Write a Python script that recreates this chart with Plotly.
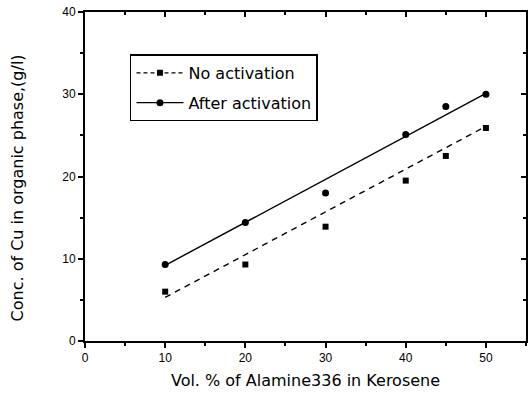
import plotly.graph_objects as go

# Data
vol_pct = [10, 20, 30, 40, 45, 50]
no_activation = [6.0, 9.3, 13.9, 19.5, 22.5, 25.9]
after_activation = [9.3, 14.4, 18.0, 25.1, 28.5, 30.0]

# Linear trend lines (end points)
fit_x = [10, 50]
fit_no = [5.3, 26.1]
fit_after = [9.2, 30.1]

x_ticks = [0, 10, 20, 30, 40, 50]
y_ticks = [0, 10, 20, 30, 40]

FONT = "Liberation Sans, Arial, sans-serif"
WIDE = "DejaVu Sans, sans-serif"

fig = go.Figure()

# Trend lines (not in legend)
fig.add_trace(go.Scatter(x=fit_x, y=fit_no, mode="lines",
                         line=dict(color="black", width=1.4, dash="6px,5px"),
                         showlegend=False, hoverinfo="skip"))
fig.add_trace(go.Scatter(x=fit_x, y=fit_after, mode="lines",
                         line=dict(color="black", width=1.4),
                         showlegend=False, hoverinfo="skip"))

# Markers
fig.add_trace(go.Scatter(x=vol_pct, y=no_activation, mode="markers",
                         showlegend=False,
                         marker=dict(symbol="square", size=6, color="black")))
fig.add_trace(go.Scatter(x=vol_pct, y=after_activation, mode="markers",
                         showlegend=False,
                         marker=dict(symbol="circle", size=7, color="black")))

# Legend entries
fig.add_trace(go.Scatter(x=[None], y=[None], mode="lines+markers",
                         name="No activation", legendgroup="a",
                         line=dict(color="black", width=1.4, dash="4px,3px"),
                         marker=dict(symbol="square", size=6, color="black")))
fig.add_trace(go.Scatter(x=[None], y=[None], mode="lines+markers",
                         name="After activation", legendgroup="b",
                         line=dict(color="black", width=1.4),
                         marker=dict(symbol="circle", size=7, color="black")))

axis_common = dict(showgrid=False, zeroline=False, showline=True,
                   linecolor="black", linewidth=2,
                   tickcolor="black", tickwidth=1.5, automargin=False,
                   tickfont=dict(family=FONT, size=12, color="black"))

fig.update_layout(
    width=528, height=393,
    margin=dict(l=85, r=2, t=12, b=52),
    paper_bgcolor="white", plot_bgcolor="white",
    font=dict(family=FONT, color="black"),
    xaxis=dict(range=[0, 55], tickmode="array", tickvals=x_ticks,
               ticks="outside", ticklen=5,
               minor=dict(dtick=5, ticks="outside", ticklen=3, tickcolor="black"),
               title=dict(text="Vol. % of Alamine336 in Kerosene",
                          font=dict(family=WIDE, size=16), standoff=10),
               **axis_common),
    yaxis=dict(range=[0, 40], tickmode="array", tickvals=y_ticks,
               ticks="outside", ticklen=5,
               minor=dict(dtick=5, ticks="outside", ticklen=3, tickcolor="black"),
               **axis_common),
    xaxis2=dict(range=[0, 55], overlaying="x", side="top", matches="x",
                tickmode="array", tickvals=x_ticks, showticklabels=False,
                ticks="inside", ticklen=5,
                minor=dict(dtick=5, ticks="inside", ticklen=3, tickcolor="black"),
                **axis_common),
    yaxis2=dict(range=[0, 40], overlaying="y", side="right",
                tickmode="array", tickvals=y_ticks, showticklabels=False,
                ticks="inside", ticklen=5,
                minor=dict(dtick=5, ticks="inside", ticklen=3, tickcolor="black"),
                **axis_common),
    legend=dict(x=0.102, y=0.871, xanchor="left", yanchor="top",
                bgcolor="white", bordercolor="black", borderwidth=1.5,
                font=dict(family=WIDE, size=16, color="black"),
                itemwidth=47, traceorder="grouped", tracegroupgap=6),
    annotations=[dict(text="Conc. of Cu in organic phase,(g/l)",
                      xref="paper", yref="paper", x=-0.154, y=0.464,
                      xanchor="center", yanchor="middle", textangle=-90,
                      showarrow=False,
                      font=dict(family=WIDE, size=16, color="black"))],
)

# dummy trace to activate secondary axes
fig.add_trace(go.Scatter(x=[None], y=[None], xaxis="x2", yaxis="y2",
                         showlegend=False, hoverinfo="skip"))

# Remove the default page margin so the figure fills the window exactly
fig.write_html("out.html", config={"displayModeBar": False},
               post_script="document.body.style.margin='0';")
